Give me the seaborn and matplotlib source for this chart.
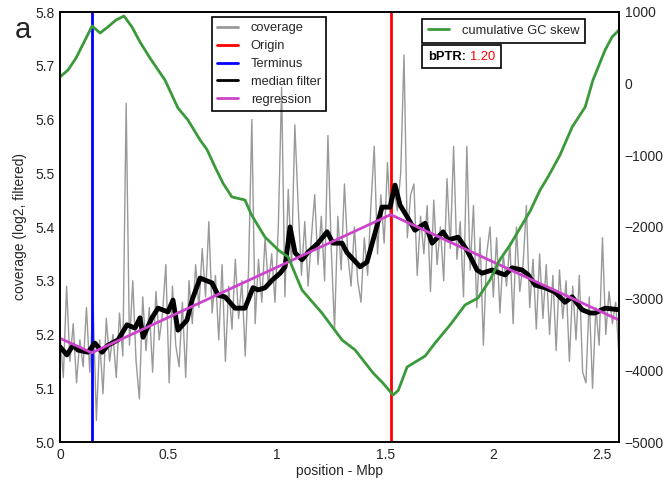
import numpy as np
import pandas as pd
import matplotlib
matplotlib.use("Agg")
import matplotlib.pyplot as plt
import seaborn as sns
from matplotlib.lines import Line2D
from matplotlib.offsetbox import TextArea, HPacker, AnchoredOffsetbox

# ---------------- data ----------------
genome_len = 2.578   # Mbp
origin = 1.525
terminus = 0.147
bptr_text = "1.20"

coverage = [
    5.20, 5.12, 5.29, 5.15, 5.22, 5.11, 5.19, 5.14, 5.25, 5.13,
    5.26, 5.04, 5.19, 5.09, 5.23, 5.15, 5.20, 5.12, 5.24, 5.16,
    5.63, 5.18, 5.30, 5.15, 5.08, 5.27, 5.17, 5.25, 5.13, 5.28,
    5.19, 5.24, 5.33, 5.11, 5.29, 5.18, 5.14, 5.26, 5.12, 5.30,
    5.22, 5.33, 5.25, 5.36, 5.27, 5.41, 5.24, 5.31, 5.19, 5.33,
    5.15, 5.29, 5.21, 5.34, 5.23, 5.30, 5.16, 5.32, 5.60, 5.22,
    5.34, 5.26, 5.38, 5.29, 5.35, 5.26, 5.40, 5.66, 5.27, 5.47,
    5.33, 5.59, 5.44, 5.31, 5.41, 5.29, 5.38, 5.46, 5.33, 5.42,
    5.30, 5.57, 5.36, 5.21, 5.42, 5.32, 5.48, 5.35, 5.29, 5.40,
    5.30, 5.26, 5.38, 5.31, 5.44, 5.55, 5.35, 5.46, 5.37, 5.52,
    5.40, 5.47, 5.43, 5.50, 5.72, 5.38, 5.46, 5.48, 5.31, 5.42,
    5.35, 5.44, 5.28, 5.45, 5.33, 5.40, 5.30, 5.49, 5.36, 5.55,
    5.34, 5.41, 5.27, 5.55, 5.32, 5.44, 5.25, 5.38, 5.18, 5.35,
    5.40, 5.27, 5.38, 5.24, 5.35, 5.29, 5.37, 5.22, 5.40, 5.28,
    5.33, 5.44, 5.25, 5.34, 5.21, 5.35, 5.23, 5.33, 5.20, 5.31,
    5.17, 5.32, 5.23, 5.30, 5.15, 5.29, 5.19, 5.31, 5.13, 5.11,
    5.27, 5.10, 5.25, 5.18, 5.38, 5.20, 5.28, 5.22, 5.26, 5.16,
]
coverage_pos = np.linspace(0, genome_len, len(coverage))

median_pos = [0.000, 0.032, 0.060, 0.083, 0.129, 0.161, 0.194, 0.221, 0.268, 0.309,
              0.346, 0.369, 0.383, 0.424, 0.452, 0.498, 0.521, 0.544, 0.586, 0.609,
              0.646, 0.701, 0.729, 0.761, 0.807, 0.853, 0.890, 0.913, 0.946, 0.978,
              1.015, 1.038, 1.061, 1.084, 1.116, 1.144, 1.190, 1.232, 1.259, 1.301,
              1.324, 1.347, 1.384, 1.416, 1.453, 1.485, 1.522, 1.545, 1.568, 1.601,
              1.637, 1.684, 1.716, 1.767, 1.790, 1.836, 1.877, 1.923, 1.946, 1.993,
              2.030, 2.053, 2.085, 2.131, 2.159, 2.191, 2.237, 2.283, 2.329, 2.362,
              2.408, 2.445, 2.468, 2.514, 2.578]
median_val = [5.177, 5.162, 5.180, 5.171, 5.167, 5.184, 5.167, 5.180, 5.190, 5.218,
              5.212, 5.231, 5.195, 5.231, 5.249, 5.242, 5.264, 5.208, 5.227, 5.264,
              5.305, 5.296, 5.273, 5.270, 5.249, 5.249, 5.287, 5.283, 5.287, 5.301,
              5.314, 5.326, 5.400, 5.352, 5.339, 5.353, 5.370, 5.391, 5.370, 5.370,
              5.352, 5.342, 5.326, 5.335, 5.389, 5.437, 5.437, 5.478, 5.441, 5.419,
              5.394, 5.407, 5.370, 5.391, 5.376, 5.381, 5.357, 5.320, 5.314, 5.320,
              5.314, 5.311, 5.324, 5.320, 5.311, 5.292, 5.287, 5.279, 5.260, 5.270,
              5.246, 5.240, 5.240, 5.249, 5.246]

regression_pos = [0.0, terminus, origin, genome_len]
regression_val = [5.193, 5.166, 5.423, 5.227]

skew_pos = [0.000, 0.037, 0.074, 0.111, 0.148, 0.185, 0.221, 0.258, 0.295, 0.332,
            0.369, 0.415, 0.484, 0.544, 0.590, 0.646, 0.678, 0.715, 0.752, 0.793,
            0.853, 0.883, 0.945, 1.010, 1.052, 1.116, 1.208, 1.301, 1.361, 1.444,
            1.490, 1.536, 1.560, 1.601, 1.684, 1.730, 1.799, 1.868, 1.928, 1.983,
            2.030, 2.076, 2.122, 2.168, 2.214, 2.251, 2.306, 2.362, 2.422, 2.458,
            2.514, 2.546, 2.578]
skew_val = [93, 191, 358, 581, 805, 707, 791, 888, 944, 791,
            581, 358, 51, -340, -507, -786, -920, -1163, -1390, -1581,
            -1623, -1830, -2139, -2330, -2418, -2879, -3200, -3577, -3716, -4037,
            -4180, -4344, -4280, -3953, -3800, -3618, -3367, -3088, -2990, -2739,
            -2450, -2250, -2014, -1780, -1484, -1300, -995, -605, -326, 51,
            470, 651, 749]

# ---------------- styling ----------------
sns.set_style("white")
plt.rcParams['font.family'] = ['Liberation Sans', 'DejaVu Sans']
plt.rcParams['axes.unicode_minus'] = True

C_COV, C_ORI, C_TER, C_MED, C_REG, C_GC = '#999999', '#ff0000', '#0000ff', 'black', '#cc44cc', '#3a9a3a'

fig = plt.figure(figsize=(6.68, 4.84), dpi=100)
ax = fig.add_axes([60 / 668, 42 / 484, 559 / 668, 430 / 484])

sns.lineplot(x=coverage_pos, y=coverage, ax=ax, color=C_COV, lw=1.0, legend=False)
ax.axvline(origin, color=C_ORI, lw=2)
ax.axvline(terminus, color=C_TER, lw=2)
sns.lineplot(x=median_pos, y=median_val, ax=ax, color=C_MED, lw=3.5, legend=False)
sns.lineplot(x=regression_pos, y=regression_val, ax=ax, color=C_REG, lw=2, legend=False)

ax.set_xlim(0, genome_len)
ax.set_ylim(5.0, 5.8)
yt = np.arange(5.0, 5.81, 0.1)
ax.set_yticks(yt)
ax.set_yticklabels([f"{v:.1f}" for v in yt])
ax.set_xticks([0, 0.5, 1, 1.5, 2, 2.5])
ax.set_xticklabels(["0", "0.5", "1", "1.5", "2", "2.5"])
ax.set_xlabel("position - Mbp", fontsize=10, labelpad=2)
ax.set_ylabel("coverage (log2, filtered)", fontsize=10, labelpad=6)
ax.tick_params(axis='both', labelsize=10, length=0, pad=4)
for s in ax.spines.values():
    s.set_color('black')
    s.set_linewidth(1.2)

labels1 = ['coverage', 'Origin', 'Terminus', 'median filter', 'regression']
colors1 = [C_COV, C_ORI, C_TER, C_MED, C_REG]
handles1 = [Line2D([], [], color=c, lw=2) for c in colors1]
leg = ax.legend(handles1, labels1, loc='upper center',
                bbox_to_anchor=(0.374, 0.988), borderaxespad=0, fontsize=9.3,
                frameon=True, fancybox=False, edgecolor='black',
                handlelength=1.6, handletextpad=1.0, labelspacing=0.45,
                borderpad=0.4)
leg.get_frame().set_facecolor('none')
leg.get_frame().set_alpha(None)
leg.get_frame().set_linewidth(1.2)

ax2 = ax.twinx()
sns.lineplot(x=skew_pos, y=skew_val, ax=ax2, color=C_GC, lw=2, legend=False)
ax2.set_ylim(-5000, 1000)
yt2 = np.arange(-5000, 1001, 1000)
ax2.set_yticks(yt2)
ax2.set_yticklabels([f"{int(v)}".replace('-', '\u2212') for v in yt2])
ax2.set_ylabel("")
ax2.tick_params(axis='y', labelsize=10, length=0, pad=4)
ax2.grid(False)
for s in ax2.spines.values():
    s.set_color('black')
    s.set_linewidth(1.2)

leg2 = ax2.legend([Line2D([], [], color=C_GC, lw=2)], ['cumulative GC skew'],
                  loc='upper left', bbox_to_anchor=(0.648, 0.984), borderaxespad=0,
                  fontsize=9.3, frameon=True, fancybox=False, edgecolor='black',
                  handlelength=1.6, handletextpad=1.0, borderpad=0.45)
leg2.get_frame().set_facecolor('none')
leg2.get_frame().set_alpha(None)
leg2.get_frame().set_linewidth(1.2)

t1 = TextArea("bPTR:", textprops=dict(weight='bold', size=9.3, color='black'))
t2 = TextArea(bptr_text, textprops=dict(size=9.3, color='#ff0000'))
pk = HPacker(children=[t1, t2], align='baseline', pad=0, sep=3)
anch = AnchoredOffsetbox(loc='upper left', child=pk, pad=0.4, frameon=True,
                         bbox_to_anchor=(0.648, 0.923), bbox_transform=ax.transAxes,
                         borderpad=0)
anch.patch.set_edgecolor('black')
anch.patch.set_linewidth(1.2)
anch.patch.set_boxstyle('square', pad=0)
ax2.add_artist(anch)

fig.text(23 / 668, 1 - 38 / 484, "a", fontsize=21, ha='center', va='baseline')

fig.savefig("out.png", dpi=100)
